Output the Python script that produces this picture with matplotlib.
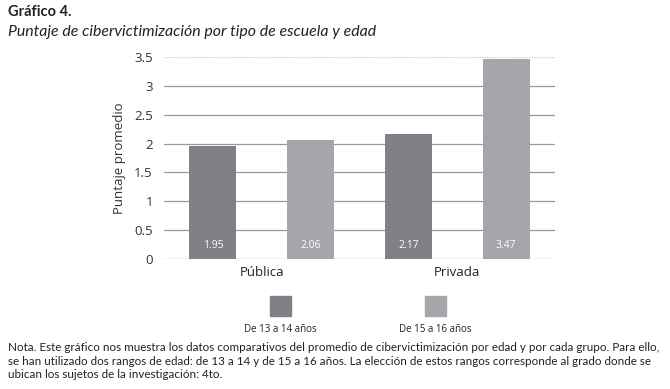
import matplotlib
matplotlib.use("Agg")
import matplotlib.pyplot as plt
import numpy as np

categories = ["Pública", "Privada"]
series_names = ["De 13 a 14 años", "De 15 a 16 años"]
values_13_14 = [1.95, 2.17]
values_15_16 = [2.06, 3.47]
yticks = [0, 0.5, 1, 1.5, 2, 2.5, 3, 3.5]
ytick_labels = ["0", "0.5", "1", "1.5", "2", "2.5", "3", "3.5"]
colors = ["#808086", "#a5a5aa"]

plt.rcParams['font.family'] = ['Open Sans', 'DejaVu Sans']

W, H = 670, 389
fig = plt.figure(figsize=(W/100, H/100), dpi=100)
ax = fig.add_axes([164/W, 1-259/H, (555-164)/W, (259-57)/H])

x = np.arange(len(categories))
bw = 0.24
off = 0.25
for i, (vals, col) in enumerate(zip([values_13_14, values_15_16], colors)):
    xs = x + (i*2-1)*off
    ax.bar(xs, vals, width=bw, color=col, zorder=3)
    for xx, v in zip(xs, vals):
        ax.text(xx, 0.24, f"{v:.2f}", color="white", ha="center", va="center",
                fontsize=7.5, zorder=4)

ax.set_xlim(-0.5, 1.5)
ax.set_ylim(0, 3.5)
ax.set_yticks(yticks)
ax.set_yticklabels(ytick_labels, fontsize=9.5, color="#333333")
ax.set_xticks(x)
ax.set_xticklabels(categories, fontsize=9.5, color="#222222")
ax.tick_params(axis="both", length=0)
ax.tick_params(axis="y", pad=8)
ax.tick_params(axis="x", pad=5)
for s in ax.spines.values():
    s.set_visible(False)
for t in yticks[:-1]:
    ax.axhline(t, color="#9a9a9a", lw=0.9, zorder=1)
ax.axhline(3.5, color="#c8c8c8", lw=0.9, ls=(0, (1, 1)), zorder=1)
ax.set_ylabel("Puntaje promedio", fontsize=9.5, color="#333333", labelpad=6)

# legend
for cx, col, name in zip([280, 435], colors, series_names):
    fig.patches.append(matplotlib.patches.Rectangle(((cx-10.5)/W, 1-316/H), 21/W, 20/H,
                       transform=fig.transFigure, color=col))
    fig.text(cx/W, 1-330/H, name, ha="center", va="center", fontsize=7, color="#222222")

fig.text(8/W, 1-12/H, "Gráfico 4.", fontsize=10.5, fontweight="bold", va="center",
         color="#222222", family=["Lato", "DejaVu Sans"])
fig.text(8/W, 1-32/H, "Puntaje de cibervictimización por tipo de escuela y edad",
         fontsize=11.4, style="italic", va="center", color="#222222", family=["Lato", "DejaVu Sans"])

note = ("Nota. Este gráfico nos muestra los datos comparativos del promedio de cibervictimización por edad y por cada grupo. Para ello,\n"
        "se han utilizado dos rangos de edad: de 13 a 14 y de 15 a 16 años. La elección de estos rangos corresponde al grado donde se\n"
        "ubican los sujetos de la investigación: 4to.")
fig.text(8/W, 1-342/H, note, fontsize=8.4, va="top", ha="left", color="#222222",
         family=["Lato", "DejaVu Sans"], linespacing=1.3)

fig.savefig("out.png", dpi=100, facecolor="white")
